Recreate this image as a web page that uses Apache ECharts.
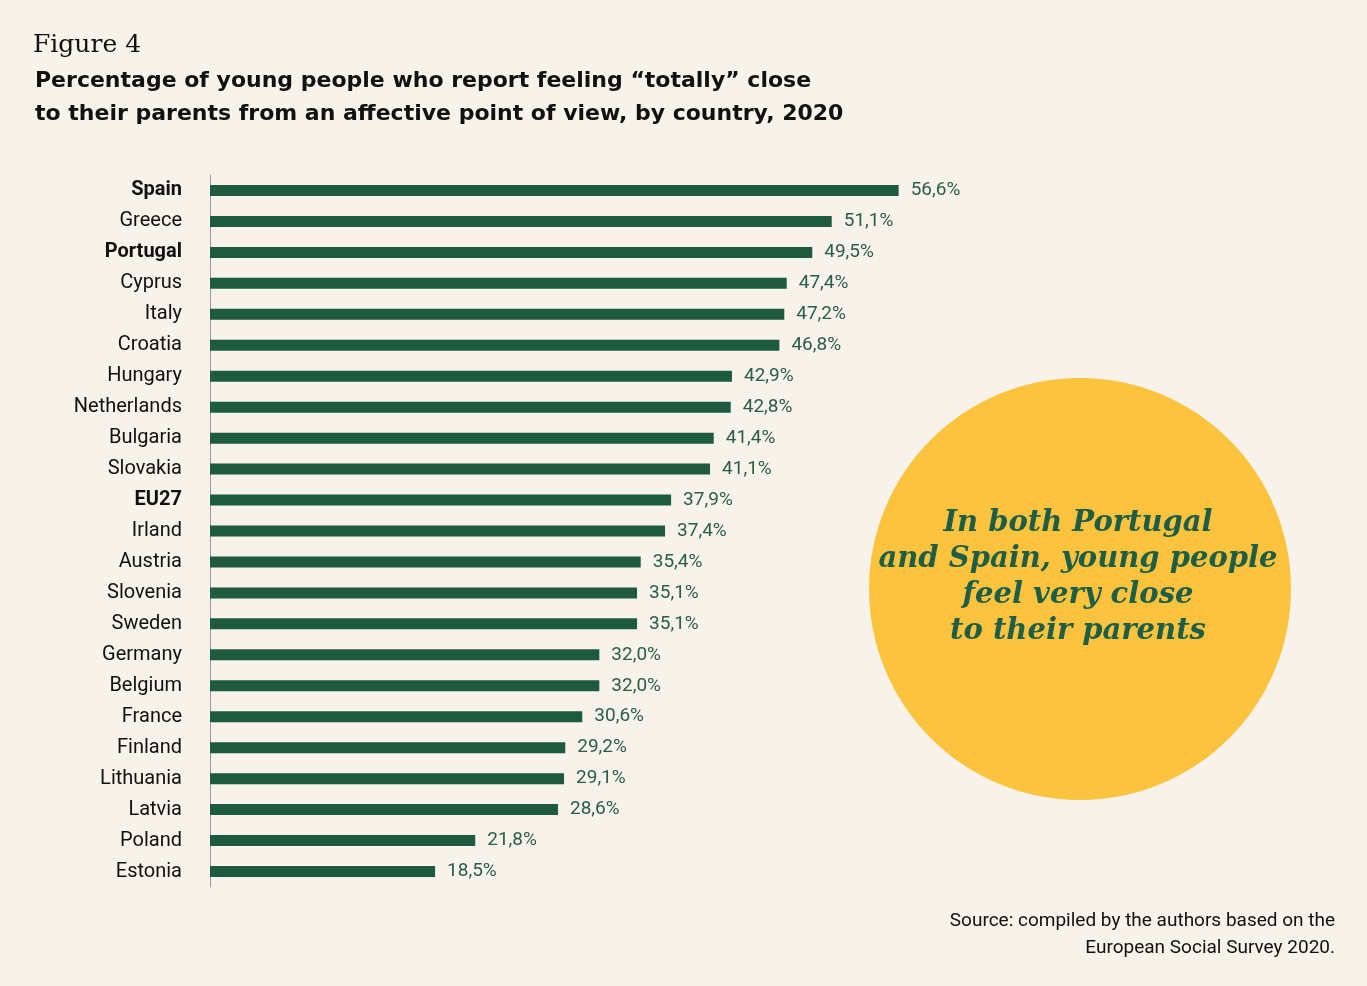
<!DOCTYPE html>
<html>
<head>
<meta charset="utf-8">
<script src="https://cdn.jsdelivr.net/npm/echarts@6/dist/echarts.min.js"></script>
<style>html,body{margin:0;background:#f7f2ea}#chart{width:1367px;height:986px}</style>
</head>
<body>
<div id="chart"></div>
<script>
var countries = ['Spain','Greece','Portugal','Cyprus','Italy','Croatia','Hungary','Netherlands','Bulgaria','Slovakia','EU27','Irland','Austria','Slovenia','Sweden','Germany','Belgium','France','Finland','Lithuania','Latvia','Poland','Estonia'];
var values = [56.6,51.1,49.5,47.4,47.2,46.8,42.9,42.8,41.4,41.1,37.9,37.4,35.4,35.1,35.1,32.0,32.0,30.6,29.2,29.1,28.6,21.8,18.5];
var boldNames = ['Spain','Portugal','EU27'];

var chart = echarts.init(document.getElementById('chart'));
chart.setOption({
  backgroundColor: '#f7f2ea',
  animation: false,
  title: [
    { text: 'Figure 4', left: 28, top: 28, textStyle: { fontFamily: 'DejaVu Serif', fontWeight: 'normal', fontSize: 25, color: '#111' } },
    { text: 'Percentage of young people who report feeling \u201ctotally\u201d close\nto their parents from an affective point of view, by country, 2020',
      left: 30, top: 60, textStyle: { fontFamily: 'DejaVu Sans', fontWeight: 'bold', fontSize: 22, lineHeight: 33, color: '#111' } }
  ],
  grid: { left: 210, top: 175, width: 730, height: 712 },
  xAxis: { type: 'value', min: 0, max: 60, show: false },
  yAxis: {
    type: 'category', inverse: true, data: countries,
    axisLine: { show: true, lineStyle: { color: '#999', width: 1 } },
    axisTick: { show: false },
    axisLabel: {
      margin: 28, fontFamily: 'Roboto', fontSize: 20, color: '#111',
      formatter: function (v) { return boldNames.indexOf(v) >= 0 ? '{b|' + v + '}' : v; },
      rich: { b: { fontWeight: 'bold', fontFamily: 'Roboto', fontSize: 20, color: '#111' } }
    }
  },
  series: [{
    type: 'bar', data: values, barWidth: 11,
    itemStyle: { color: '#1d5a40' },
    label: {
      show: true, position: 'right', distance: 12, fontFamily: 'Roboto', fontSize: 19, color: '#2a5e45',
      formatter: function (p) { return p.value.toFixed(1).replace('.', ',') + '%'; }
    }
  }],
  graphic: [
    { type: 'circle', shape: { cx: 1080, cy: 589, r: 211 }, style: { fill: '#fcc43e' } },
    { type: 'text', style: {
        x: 1078, y: 577, text: 'In both Portugal\nand Spain, young people\nfeel very close\nto their parents',
        font: 'italic bold 29px "DejaVu Serif"', fill: '#1f5e45', align: 'center', verticalAlign: 'middle', lineHeight: 36
      } },
    { type: 'text', style: {
        x: 1335, y: 908, text: 'Source: compiled by the authors based on the\nEuropean Social Survey 2020.',
        font: '19px Roboto', fill: '#111', align: 'right', verticalAlign: 'top', lineHeight: 27
      } }
  ]
});
</script>
</body>
</html>
